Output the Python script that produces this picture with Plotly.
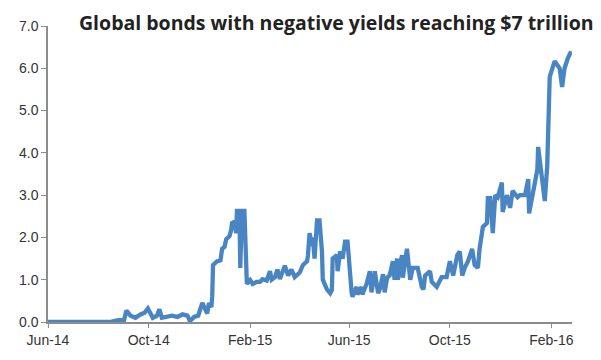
import plotly.graph_objects as go

dates = [
    "2014-06-01", "2014-08-15", "2014-08-21", "2014-08-27", "2014-09-01", "2014-09-04",
    "2014-09-09", "2014-09-15", "2014-09-21", "2014-09-26", "2014-09-30", "2014-10-03",
    "2014-10-06", "2014-10-11", "2014-10-14", "2014-10-17", "2014-10-23", "2014-10-29",
    "2014-11-05", "2014-11-11", "2014-11-17", "2014-11-20", "2014-11-25", "2014-11-30",
    "2014-12-05", "2014-12-08", "2014-12-11", "2014-12-13", "2014-12-16", "2014-12-17",
    "2014-12-18", "2014-12-23", "2014-12-27", "2014-12-29", "2015-01-01", "2015-01-03",
    "2015-01-07", "2015-01-09", "2015-01-10", "2015-01-13", "2015-01-15", "2015-01-16",
    "2015-01-19", "2015-01-20", "2015-01-22", "2015-01-25", "2015-01-27", "2015-01-28",
    "2015-02-01", "2015-02-04", "2015-02-09", "2015-02-13", "2015-02-16", "2015-02-21",
    "2015-02-25", "2015-02-27", "2015-03-03", "2015-03-06", "2015-03-09", "2015-03-15",
    "2015-03-19", "2015-03-23", "2015-03-27", "2015-04-02", "2015-04-06", "2015-04-11",
    "2015-04-12", "2015-04-14", "2015-04-17", "2015-04-18", "2015-04-20", "2015-04-23",
    "2015-04-26", "2015-04-29", "2015-04-30", "2015-05-05", "2015-05-09", "2015-05-11",
    "2015-05-12", "2015-05-17", "2015-05-18", "2015-05-21", "2015-05-24", "2015-05-27",
    "2015-05-30", "2015-06-02", "2015-06-04", "2015-06-05", "2015-06-10", "2015-06-11",
    "2015-06-16", "2015-06-17", "2015-06-22", "2015-06-26", "2015-06-28", "2015-07-02",
    "2015-07-06", "2015-07-08", "2015-07-11", "2015-07-12", "2015-07-14", "2015-07-17",
    "2015-07-20", "2015-07-24", "2015-07-26", "2015-07-29", "2015-07-30", "2015-08-04",
    "2015-08-05", "2015-08-10", "2015-08-14", "2015-08-17", "2015-08-23", "2015-08-28",
    "2015-08-30", "2015-09-01", "2015-09-07", "2015-09-09", "2015-09-15", "2015-09-21",
    "2015-09-27", "2015-10-01", "2015-10-05", "2015-10-10", "2015-10-13", "2015-10-16",
    "2015-10-19", "2015-10-23", "2015-10-28", "2015-10-31", "2015-11-04", "2015-11-06",
    "2015-11-10", "2015-11-15", "2015-11-16", "2015-11-19", "2015-11-22", "2015-11-25",
    "2015-11-28", "2015-12-03", "2015-12-04", "2015-12-09", "2015-12-13", "2015-12-16",
    "2015-12-22", "2015-12-25", "2015-12-31", "2016-01-04", "2016-01-05", "2016-01-08",
    "2016-01-15", "2016-01-16", "2016-01-21", "2016-01-24", "2016-01-27", "2016-01-28",
    "2016-01-30", "2016-02-05", "2016-02-11", "2016-02-14", "2016-02-17", "2016-02-21",
    "2016-02-25",
]

values = [
    0.0, 0.0, 0.03, 0.05, 0.03, 0.27,
    0.15, 0.10, 0.18, 0.22, 0.32, 0.18,
    0.10, 0.15, 0.30, 0.10, 0.12, 0.15,
    0.12, 0.18, 0.15, 0.02, 0.12, 0.15,
    0.45, 0.30, 0.20, 0.45, 0.35, 0.60,
    1.35, 1.44, 1.46, 1.73, 1.78, 1.96,
    2.03, 2.18, 2.34, 2.37, 2.10, 2.63,
    2.63, 1.28, 2.63, 2.63, 1.58, 0.90,
    0.99, 0.90, 0.95, 0.95, 1.01, 0.98,
    1.20, 1.00, 1.06, 1.24, 1.02, 1.33,
    1.10, 1.24, 1.06, 1.17, 1.35, 1.44,
    1.58, 2.10, 1.80, 2.00, 1.50, 2.40,
    2.40, 1.67, 1.00, 0.77, 0.68, 0.75,
    1.50, 1.58, 1.20, 1.67, 1.50, 1.90,
    1.90, 1.00, 0.68, 0.60, 0.83, 0.65,
    0.83, 0.65, 0.90, 1.20, 0.70, 1.20,
    0.68, 0.77, 1.00, 1.13, 0.70, 1.05,
    1.10, 1.44, 1.00, 1.50, 1.00, 1.58,
    1.05, 1.73, 1.00, 1.28, 1.28, 0.83,
    0.77, 1.10, 1.20, 0.95, 0.83, 1.06,
    1.06, 1.44, 1.10, 1.58, 1.67, 1.10,
    1.28, 1.44, 1.73, 1.35, 1.28, 1.73,
    2.25, 2.34, 2.93, 2.93, 2.10, 3.00,
    2.95, 3.30, 2.60, 3.00, 2.70, 3.10,
    2.95, 3.00, 3.00, 3.38, 2.57, 2.90,
    3.60, 4.14, 3.30, 2.86, 3.70, 4.37,
    5.80, 6.17, 6.00, 5.56, 6.00, 6.24,
    6.40,
]

month_ticks = ["2014-06-01", "2014-10-01", "2015-02-01", "2015-06-01", "2015-10-01", "2016-02-01"]
month_labels = ["Jun-14", "Oct-14", "Feb-15", "Jun-15", "Oct-15", "Feb-16"]
y_ticks = [0, 1, 2, 3, 4, 5, 6, 7]
y_labels = ["0.0", "1.0", "2.0", "3.0", "4.0", "5.0", "6.0", "7.0"]
title_text = "Global bonds with negative yields reaching $7 trillion"

fig = go.Figure()
fig.add_trace(go.Scatter(
    x=dates, y=values, mode="lines",
    line=dict(color="#4a85c3", width=4.3),
    hoverinfo="skip",
))

axis_font = dict(family="Liberation Sans, Arial, sans-serif", size=14, color="#333333")

fig.update_layout(
    width=601, height=360,
    margin=dict(l=48, r=29, t=26, b=23),
    paper_bgcolor="white", plot_bgcolor="white",
    showlegend=False,
    xaxis=dict(
        type="date", range=["2014-06-01", "2016-02-26"],
        tickvals=month_ticks, ticktext=month_labels,
        showgrid=False, zeroline=False,
        showline=True, linecolor="#8c8c8c", linewidth=1.5,
        ticks="outside", ticklen=4, tickcolor="#8c8c8c", tickwidth=1,
        tickfont=axis_font,
    ),
    yaxis=dict(
        range=[0, 7], tickvals=y_ticks, ticktext=y_labels,
        showgrid=False, zeroline=False,
        showline=True, linecolor="#8c8c8c", linewidth=1.5,
        ticks="outside", ticklen=5, tickcolor="#8c8c8c", tickwidth=1,
        tickfont=axis_font,
    ),
    annotations=[dict(
        text="<b>" + title_text + "</b>",
        xref="paper", yref="paper", x=1.045, y=1.0,
        xanchor="right", yanchor="bottom", yshift=-12,
        showarrow=False,
        font=dict(family="Open Sans, sans-serif", size=19.5, color="#222222"),
    )],
)

fig.write_html("out.html")
